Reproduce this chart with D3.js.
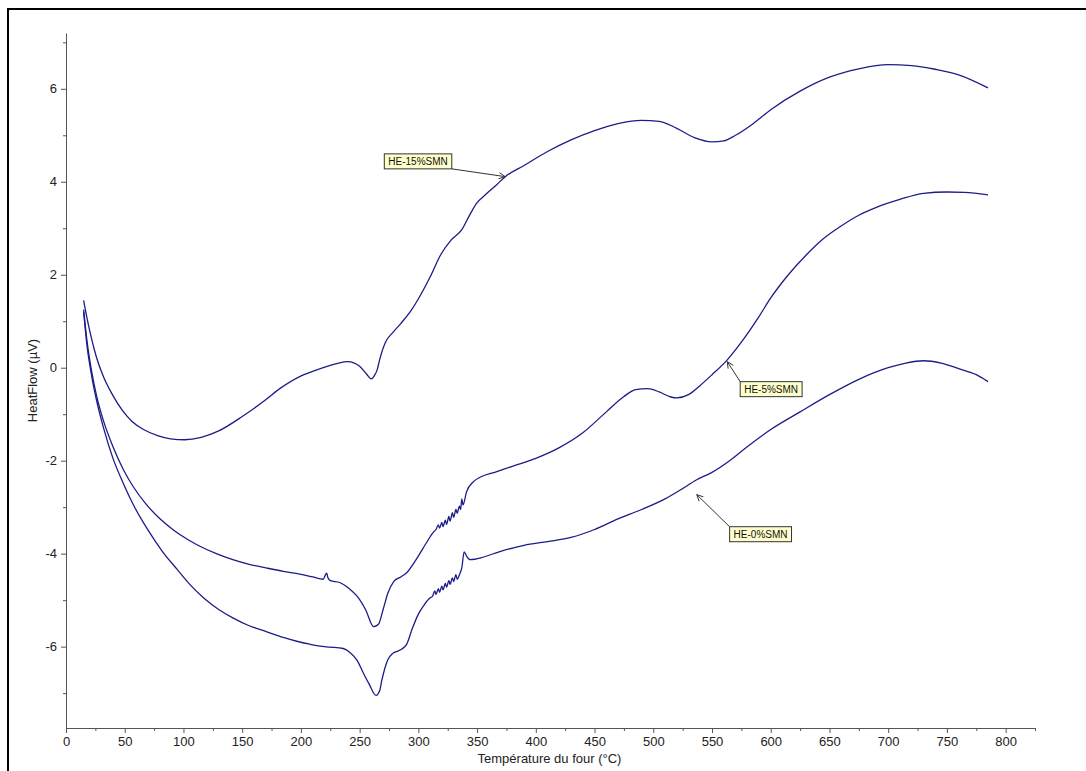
<!DOCTYPE html>
<html>
<head>
<meta charset="utf-8">
<script src="https://cdn.jsdelivr.net/npm/d3@7"></script>
<style>
  body { margin: 0; background: #fff; }
  text { font-family: Arial, "Liberation Sans", sans-serif; }
</style>
</head>
<body>
<script>
/* ----------------------------- Data ----------------------------- */
const temp15 = [15,18,22,26,32,40,48,56,66,78,89,101,115,130,150,170,182,199,210,225,232,240,250,256,260,263,265,267,272,278,285,293,302,310,319,328,337,344,350,357,366,374,390,410,430,450,470,490,505,520,535,550,560,570,585,600,625,650,675,700,720,740,760,785];
const flow15 = [1.45,1.05,0.6,0.22,-0.2,-0.6,-0.92,-1.15,-1.33,-1.46,-1.53,-1.55,-1.5,-1.36,-1.05,-0.69,-0.45,-0.19,-0.08,0.05,0.1,0.13,0.03,-0.14,-0.24,-0.15,-0.04,0.17,0.55,0.75,0.95,1.2,1.57,1.95,2.43,2.75,2.97,3.3,3.55,3.72,3.92,4.11,4.35,4.65,4.9,5.1,5.25,5.32,5.3,5.15,4.95,4.86,4.88,5.0,5.25,5.55,5.95,6.25,6.43,6.52,6.5,6.42,6.3,6.02];

const temp5 = [15,18,22,26,32,40,49,57,68,80,92,104,114,128,142,156,171,185,199,210,219,221,222,223,225,233,241,248,255,262,266,270,274,279,285,290,299,307,313,315,317,318,320,321,323,324,326,327,329,330,332,333,335,336,337,338,341,347,353,365,380,400,420,440,460,475,485,495,505,515,520,530,540,550,563,575,590,600,615,630,645,660,675,690,710,730,750,765,785];
const flow5 = [1.25,0.55,-0.1,-0.6,-1.15,-1.7,-2.2,-2.55,-2.93,-3.25,-3.5,-3.7,-3.84,-4.0,-4.13,-4.23,-4.31,-4.38,-4.44,-4.5,-4.55,-4.45,-4.42,-4.52,-4.58,-4.62,-4.75,-4.92,-5.2,-5.57,-5.52,-5.2,-4.85,-4.6,-4.5,-4.41,-4.09,-3.76,-3.53,-3.48,-3.38,-3.45,-3.33,-3.42,-3.28,-3.37,-3.2,-3.3,-3.12,-3.22,-3.05,-3.13,-2.98,-3.05,-2.82,-2.95,-2.67,-2.45,-2.35,-2.25,-2.12,-1.95,-1.72,-1.4,-0.95,-0.62,-0.47,-0.45,-0.52,-0.63,-0.65,-0.58,-0.38,-0.15,0.17,0.55,1.1,1.5,2.0,2.42,2.78,3.05,3.28,3.45,3.62,3.75,3.78,3.77,3.72];

const temp0 = [15,18,22,26,32,40,49,58,70,82,95,105,118,130,142,156,171,185,199,208,216,225,236,242,248,253,258,264,267,269,274,278,282,286,290,295,300,305,310,312,314,315,317,318,320,321,323,324,326,327,329,330,332,333,335,337,339,341,344,348,353,370,390,410,430,450,470,490,510,523,537,550,565,580,600,625,650,675,700,715,730,745,760,775,785];
const flow0 = [1.2,0.45,-0.2,-0.7,-1.3,-1.95,-2.5,-2.98,-3.5,-3.95,-4.35,-4.65,-4.97,-5.2,-5.38,-5.55,-5.68,-5.8,-5.9,-5.95,-5.99,-6.01,-6.04,-6.13,-6.3,-6.56,-6.8,-7.05,-6.95,-6.71,-6.28,-6.15,-6.1,-6.05,-5.95,-5.6,-5.3,-5.1,-4.95,-4.92,-4.8,-4.88,-4.75,-4.83,-4.7,-4.78,-4.64,-4.72,-4.58,-4.66,-4.52,-4.6,-4.45,-4.55,-4.45,-4.3,-3.96,-4.05,-4.13,-4.12,-4.09,-3.95,-3.82,-3.74,-3.65,-3.48,-3.25,-3.05,-2.82,-2.63,-2.41,-2.25,-2.0,-1.7,-1.33,-0.95,-0.58,-0.25,0.0,0.1,0.15,0.1,-0.02,-0.15,-0.3];

const seriesNames = ["HE-15%SMN", "HE-5%SMN", "HE-0%SMN"];

// annotation: arrow tip (T, flow), box corner (T, flow), which box corner the arrow leaves from
const noteTipT = [374, 563, 537];
const noteTipV = [4.11, 0.13, -2.73];
const noteBoxT = [271, 574, 565];
const noteBoxV = [4.6, -0.3, -3.42];
const noteFrom = ["bottomRight", "topLeft", "topLeft"];

const xTicks = d3.range(0, 801, 50);
const xMinor = d3.range(25, 826, 50);
const yTicks = [-6, -4, -2, 0, 2, 4, 6];
const yMinor = [-7, -5, -3, -1, 1, 3, 5, 7];

/* ----------------------------- Layout ----------------------------- */
const width = 1086, height = 771;
const plot = { left: 66, right: 1035, top: 33, bottom: 728 };
const lineColor = "#1c1c88";
const axisColor = "#555";

const svg = d3.select("body").append("svg").attr("width", width).attr("height", height);

// outer frame (right and bottom edges fall outside the picture)
svg.append("rect")
    .attr("x", 8).attr("y", 9)
    .attr("width", 1200).attr("height", 900)
    .attr("fill", "none").attr("stroke", "#000").attr("stroke-width", 2);

const x = d3.scaleLinear().domain([0, 825]).range([plot.left, plot.right]);
const y = d3.scaleLinear().domain([-7.75, 7.2]).range([plot.bottom, plot.top]);

/* ----------------------------- Axes ----------------------------- */
svg.append("g").attr("transform", `translate(0,${plot.bottom})`)
    .call(d3.axisBottom(x).tickValues(xTicks).tickFormat(d => String(d))
        .tickSize(5).tickPadding(4).tickSizeOuter(0));
svg.append("g").attr("transform", `translate(0,${plot.bottom})`)
    .call(d3.axisBottom(x).tickValues(xMinor).tickSize(3).tickFormat("").tickSizeOuter(0))
    .select(".domain").remove();

svg.append("g").attr("transform", `translate(${plot.left},0)`)
    .call(d3.axisLeft(y).tickValues(yTicks).tickFormat(d => String(d))
        .tickSize(5).tickPadding(4).tickSizeOuter(0));
svg.append("g").attr("transform", `translate(${plot.left},0)`)
    .call(d3.axisLeft(y).tickValues(yMinor).tickSize(3).tickFormat("").tickSizeOuter(0))
    .select(".domain").remove();

svg.selectAll(".domain, .tick line").attr("stroke", axisColor);
svg.selectAll(".tick text").attr("fill", "#222").style("font-size", "13px")
    .style("font-family", "Arial, 'Liberation Sans', sans-serif");

svg.append("text")
    .attr("x", (plot.left + plot.right) / 2 - 1)
    .attr("y", 763)
    .attr("text-anchor", "middle")
    .attr("fill", "#222")
    .style("font-size", "13px")
    .text("Température du four (°C)");

svg.append("text")
    .attr("transform", `translate(37,${(plot.top + plot.bottom) / 2}) rotate(-90)`)
    .attr("text-anchor", "middle")
    .attr("fill", "#222")
    .style("font-size", "13px")
    .text("HeatFlow (µV)");

/* ----------------------------- Curves ----------------------------- */
const series = [
    { t: temp15, v: flow15 },
    { t: temp5, v: flow5 },
    { t: temp0, v: flow0 }
];

const line = d3.line()
    .x(d => x(d[0]))
    .y(d => y(d[1]))
    .curve(d3.curveMonotoneX);

svg.append("g").selectAll("path")
    .data(series)
    .enter().append("path")
    .attr("d", s => line(d3.zip(s.t, s.v)))
    .attr("fill", "none")
    .attr("stroke", lineColor)
    .attr("stroke-width", 1.3)
    .attr("stroke-linejoin", "round");

/* ----------------------------- Labels with arrows ----------------------------- */
const notes = svg.append("g");
seriesNames.forEach((name, i) => {
    const bx = x(noteBoxT[i]), by = y(noteBoxV[i]);
    const g = notes.append("g");
    const txt = g.append("text")
        .attr("x", bx + 4).attr("y", by + 11)
        .attr("fill", "#111")
        .style("font-size", "10px")
        .text(name);
    const bb = txt.node().getBBox();
    const bw = bb.width + 8, bh = 15;
    g.insert("rect", "text")
        .attr("x", bx).attr("y", by)
        .attr("width", bw).attr("height", bh)
        .attr("fill", "#ffffcc").attr("stroke", "#333").attr("stroke-width", 1);

    const sx = noteFrom[i] === "topLeft" ? bx : bx + bw;
    const sy = noteFrom[i] === "topLeft" ? by : by + bh;
    const tx = x(noteTipT[i]), ty = y(noteTipV[i]);
    const ang = Math.atan2(ty - sy, tx - sx);
    const head = 7, spread = 0.45;
    g.append("line")
        .attr("x1", sx).attr("y1", sy).attr("x2", tx).attr("y2", ty)
        .attr("stroke", "#333").attr("stroke-width", 1);
    g.append("path")
        .attr("d", `M${tx - head * Math.cos(ang - spread)},${ty - head * Math.sin(ang - spread)}L${tx},${ty}L${tx - head * Math.cos(ang + spread)},${ty - head * Math.sin(ang + spread)}`)
        .attr("fill", "none").attr("stroke", "#333").attr("stroke-width", 1);
});
</script>
</body>
</html>
